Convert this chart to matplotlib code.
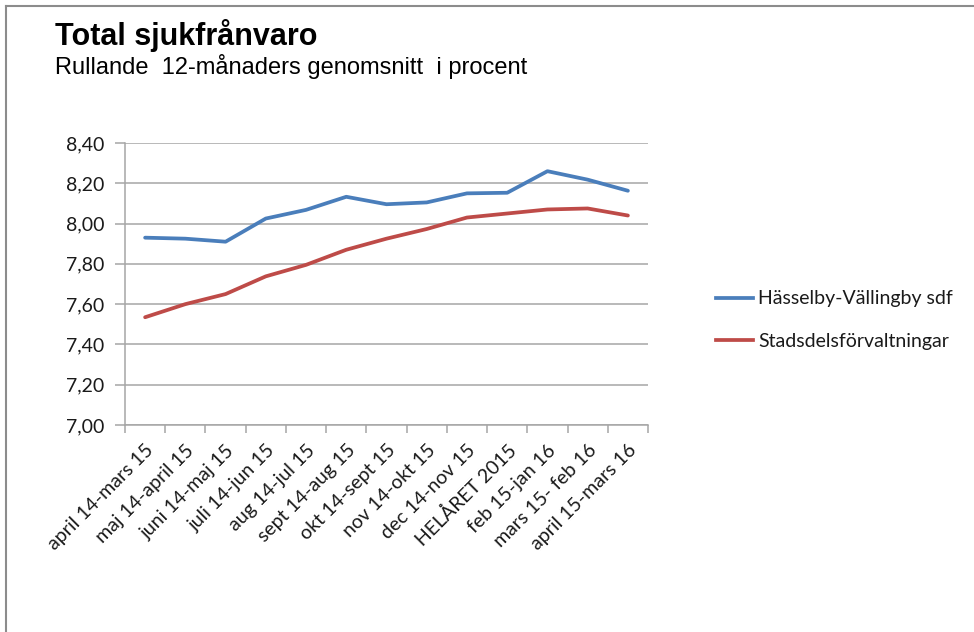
import matplotlib.pyplot as plt
import matplotlib.lines as mlines
import numpy as np

# Rolling 12-month sick leave, percent
periods = ['april 14-mars 15', 'maj 14-april 15', 'juni 14-maj 15', 'juli 14-jun 15',
           'aug 14-jul 15', 'sept 14-aug 15', 'okt 14-sept 15', 'nov 14-okt 15',
           'dec 14-nov 15', 'HELÅRET 2015', 'feb 15-jan 16', 'mars 15- feb 16',
           'april 15-mars 16']
hasselby = [7.93, 7.925, 7.91, 8.025, 8.068, 8.133, 8.096, 8.105, 8.15, 8.153, 8.26, 8.218, 8.163]
stadsdel = [7.535, 7.60, 7.65, 7.738, 7.795, 7.87, 7.925, 7.973, 8.03, 8.05, 8.07, 8.075, 8.04]
yticks = [7.0, 7.2, 7.4, 7.6, 7.8, 8.0, 8.2, 8.4]

label_font = ['Lato', 'DejaVu Sans']
blue = '#4a7ebb'
red = '#be4b48'
grid_col = '#a6a6a6'
text_col = '#1a1a1a'
lw = 2.7

fig = plt.figure(figsize=(9.74, 6.32), dpi=100)
W, H = 974, 632
ax = fig.add_axes([125 / W, 1 - 425 / H, (648 - 125) / W, (425 - 143) / H])

x = np.arange(len(periods))
ax.plot(x, hasselby, color=blue, lw=lw, solid_capstyle='round')
ax.plot(x, stadsdel, color=red, lw=lw, solid_capstyle='round')

ax.set_xlim(-0.5, len(periods) - 0.5)
ax.set_ylim(7.0, 8.4)
ax.set_yticks(yticks)
ax.set_yticklabels([f'{v:.2f}'.replace('.', ',') for v in yticks],
                   fontsize=14, family=label_font, color=text_col)
ax.yaxis.grid(True, color=grid_col, lw=1.1)
ax.set_axisbelow(True)

# category labels at centres, tick marks between categories
ax.set_xticks(x)
ax.set_xticklabels(periods, rotation=45, ha='right', rotation_mode='anchor',
                   fontsize=14, family=label_font, color=text_col)
ax.set_xticks(np.arange(-0.5, len(periods)), minor=True)
ax.tick_params(axis='x', which='major', length=0, pad=12)
ax.tick_params(axis='x', which='minor', length=6, color=grid_col, width=1.1)
ax.tick_params(axis='y', length=7, color=grid_col, width=1.1, pad=8)

for s in ['top', 'right']:
    ax.spines[s].set_visible(False)
ax.spines['left'].set_color(grid_col)
ax.spines['bottom'].set_color(grid_col)
ax.spines['left'].set_linewidth(1.1)
ax.spines['bottom'].set_linewidth(1.1)

fig.text(55 / W, 1 - 45 / H, 'Total sjukfrånvaro', fontsize=22, fontweight='bold',
         family='Liberation Sans', va='baseline')
fig.text(55 / W, 1 - 74 / H, 'Rullande  12-månaders genomsnitt  i procent', fontsize=17,
         family='Liberation Sans', va='baseline')

handles = [mlines.Line2D([], [], color=blue, lw=lw),
           mlines.Line2D([], [], color=red, lw=lw)]
fig.legend(handles, ['Hässelby-Vällingby sdf', 'Stadsdelsförvaltningar'],
           loc='center left', bbox_to_anchor=(698 / W, 1 - 320 / H), frameon=False,
           prop={'family': label_font, 'size': 14}, handlelength=1.95, handletextpad=0.25,
           labelspacing=1.3, labelcolor=text_col)

# frame edges along top and left
fig.add_artist(mlines.Line2D([6 / W, 1], [1 - 6 / H] * 2, color='#8c8c8c', lw=1.5))
fig.add_artist(mlines.Line2D([6 / W] * 2, [0, 1 - 6 / H], color='#8c8c8c', lw=1.5))

fig.savefig('out.png', dpi=100)
